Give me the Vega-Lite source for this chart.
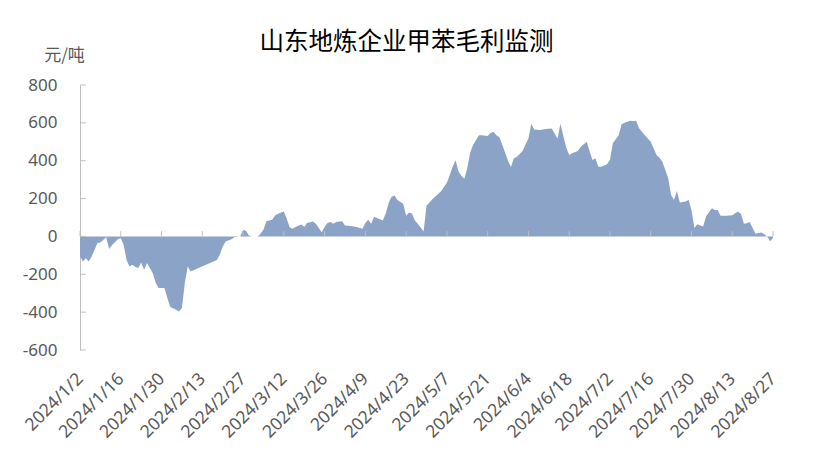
{
  "$schema": "https://vega.github.io/schema/vega-lite/v6.json",
  "width": 693,
  "height": 265,
  "autosize": {"type": "none"},
  "padding": {"left": 80, "top": 85, "right": 42, "bottom": 111},
  "background": "white",
  "config": {"view": {"stroke": null}},
  "title": {
    "text": "山东地炼企业甲苯毛利监测",
    "font": "Noto Sans CJK SC",
    "fontSize": 24.5,
    "fontWeight": "normal",
    "color": "#000000",
    "anchor": "middle",
    "dx": -20,
    "dy": 17,
    "offset": 8
  },
  "datasets": {
    "profit": [
      {"date": "2024/01/02", "v": -106}, {"date": "2024/01/03", "v": -133}, {"date": "2024/01/04", "v": -115},
      {"date": "2024/01/05", "v": -133}, {"date": "2024/01/06", "v": -106}, {"date": "2024/01/07", "v": -71},
      {"date": "2024/01/08", "v": -35}, {"date": "2024/01/09", "v": -32}, {"date": "2024/01/11", "v": -4},
      {"date": "2024/01/12", "v": -67}, {"date": "2024/01/13", "v": -45}, {"date": "2024/01/15", "v": -15},
      {"date": "2024/01/16", "v": -10}, {"date": "2024/01/17", "v": -45}, {"date": "2024/01/18", "v": -124},
      {"date": "2024/01/19", "v": -159}, {"date": "2024/01/20", "v": -150}, {"date": "2024/01/21", "v": -162},
      {"date": "2024/01/22", "v": -167}, {"date": "2024/01/23", "v": -138}, {"date": "2024/01/24", "v": -176},
      {"date": "2024/01/25", "v": -141}, {"date": "2024/01/27", "v": -194}, {"date": "2024/01/28", "v": -246},
      {"date": "2024/01/29", "v": -273}, {"date": "2024/01/31", "v": -273}, {"date": "2024/02/01", "v": -325},
      {"date": "2024/02/02", "v": -373}, {"date": "2024/02/04", "v": -387}, {"date": "2024/02/05", "v": -396},
      {"date": "2024/02/06", "v": -378}, {"date": "2024/02/07", "v": -246}, {"date": "2024/02/08", "v": -159},
      {"date": "2024/02/09", "v": -185}, {"date": "2024/02/18", "v": -124}, {"date": "2024/02/19", "v": -97},
      {"date": "2024/02/20", "v": -54}, {"date": "2024/02/21", "v": -27}, {"date": "2024/02/23", "v": -15},
      {"date": "2024/02/24", "v": -4}, {"date": "2024/02/25", "v": -2}, {"date": "2024/02/26", "v": 0},
      {"date": "2024/02/27", "v": 34}, {"date": "2024/02/28", "v": 30}, {"date": "2024/02/29", "v": 5},
      {"date": "2024/03/01", "v": 0}, {"date": "2024/03/03", "v": 0}, {"date": "2024/03/04", "v": 14},
      {"date": "2024/03/05", "v": 35}, {"date": "2024/03/06", "v": 80}, {"date": "2024/03/08", "v": 88},
      {"date": "2024/03/09", "v": 110}, {"date": "2024/03/10", "v": 120}, {"date": "2024/03/12", "v": 132},
      {"date": "2024/03/13", "v": 94}, {"date": "2024/03/14", "v": 49}, {"date": "2024/03/15", "v": 41},
      {"date": "2024/03/16", "v": 50}, {"date": "2024/03/18", "v": 63}, {"date": "2024/03/19", "v": 50},
      {"date": "2024/03/20", "v": 71}, {"date": "2024/03/22", "v": 79}, {"date": "2024/03/23", "v": 67},
      {"date": "2024/03/24", "v": 44}, {"date": "2024/03/25", "v": 22}, {"date": "2024/03/26", "v": 50},
      {"date": "2024/03/27", "v": 71}, {"date": "2024/03/28", "v": 76}, {"date": "2024/03/29", "v": 67},
      {"date": "2024/03/30", "v": 76}, {"date": "2024/04/01", "v": 80}, {"date": "2024/04/02", "v": 58},
      {"date": "2024/04/04", "v": 55}, {"date": "2024/04/06", "v": 50}, {"date": "2024/04/08", "v": 41},
      {"date": "2024/04/09", "v": 71}, {"date": "2024/04/10", "v": 88}, {"date": "2024/04/11", "v": 67},
      {"date": "2024/04/12", "v": 104}, {"date": "2024/04/13", "v": 97}, {"date": "2024/04/15", "v": 84},
      {"date": "2024/04/16", "v": 121}, {"date": "2024/04/17", "v": 177}, {"date": "2024/04/18", "v": 210},
      {"date": "2024/04/19", "v": 216}, {"date": "2024/04/20", "v": 193}, {"date": "2024/04/22", "v": 173},
      {"date": "2024/04/23", "v": 109}, {"date": "2024/04/24", "v": 127}, {"date": "2024/04/25", "v": 121},
      {"date": "2024/04/26", "v": 84}, {"date": "2024/04/27", "v": 67}, {"date": "2024/04/28", "v": 47},
      {"date": "2024/04/29", "v": 26}, {"date": "2024/04/30", "v": 162}, {"date": "2024/05/02", "v": 197},
      {"date": "2024/05/05", "v": 239}, {"date": "2024/05/07", "v": 283}, {"date": "2024/05/08", "v": 325},
      {"date": "2024/05/09", "v": 370}, {"date": "2024/05/10", "v": 402}, {"date": "2024/05/11", "v": 343},
      {"date": "2024/05/12", "v": 320}, {"date": "2024/05/13", "v": 305}, {"date": "2024/05/14", "v": 360},
      {"date": "2024/05/15", "v": 444}, {"date": "2024/05/16", "v": 483}, {"date": "2024/05/18", "v": 535},
      {"date": "2024/05/19", "v": 534}, {"date": "2024/05/21", "v": 530}, {"date": "2024/05/22", "v": 547},
      {"date": "2024/05/23", "v": 553}, {"date": "2024/05/24", "v": 534}, {"date": "2024/05/25", "v": 525},
      {"date": "2024/05/26", "v": 486}, {"date": "2024/05/27", "v": 442}, {"date": "2024/05/28", "v": 398},
      {"date": "2024/05/29", "v": 367}, {"date": "2024/05/30", "v": 413}, {"date": "2024/05/31", "v": 419},
      {"date": "2024/06/02", "v": 451}, {"date": "2024/06/03", "v": 486}, {"date": "2024/06/04", "v": 518},
      {"date": "2024/06/05", "v": 595}, {"date": "2024/06/06", "v": 565}, {"date": "2024/06/08", "v": 562},
      {"date": "2024/06/10", "v": 567}, {"date": "2024/06/12", "v": 570}, {"date": "2024/06/14", "v": 518},
      {"date": "2024/06/15", "v": 595}, {"date": "2024/06/16", "v": 530}, {"date": "2024/06/17", "v": 468},
      {"date": "2024/06/18", "v": 430}, {"date": "2024/06/19", "v": 440}, {"date": "2024/06/21", "v": 451},
      {"date": "2024/06/22", "v": 474}, {"date": "2024/06/24", "v": 500}, {"date": "2024/06/26", "v": 404},
      {"date": "2024/06/27", "v": 413}, {"date": "2024/06/28", "v": 368}, {"date": "2024/06/29", "v": 368},
      {"date": "2024/07/01", "v": 381}, {"date": "2024/07/02", "v": 404}, {"date": "2024/07/03", "v": 492},
      {"date": "2024/07/05", "v": 535}, {"date": "2024/07/06", "v": 593}, {"date": "2024/07/07", "v": 600},
      {"date": "2024/07/09", "v": 611}, {"date": "2024/07/10", "v": 609}, {"date": "2024/07/11", "v": 611},
      {"date": "2024/07/12", "v": 571}, {"date": "2024/07/14", "v": 535}, {"date": "2024/07/16", "v": 500},
      {"date": "2024/07/18", "v": 430}, {"date": "2024/07/19", "v": 416}, {"date": "2024/07/20", "v": 395},
      {"date": "2024/07/22", "v": 307}, {"date": "2024/07/23", "v": 219}, {"date": "2024/07/24", "v": 193},
      {"date": "2024/07/25", "v": 240}, {"date": "2024/07/26", "v": 179}, {"date": "2024/07/28", "v": 184},
      {"date": "2024/07/29", "v": 193}, {"date": "2024/07/30", "v": 140}, {"date": "2024/07/31", "v": 44},
      {"date": "2024/08/01", "v": 65}, {"date": "2024/08/03", "v": 53}, {"date": "2024/08/04", "v": 105},
      {"date": "2024/08/06", "v": 149}, {"date": "2024/08/07", "v": 140}, {"date": "2024/08/08", "v": 140},
      {"date": "2024/08/09", "v": 109}, {"date": "2024/08/11", "v": 109}, {"date": "2024/08/13", "v": 112},
      {"date": "2024/08/14", "v": 123}, {"date": "2024/08/15", "v": 132}, {"date": "2024/08/16", "v": 118},
      {"date": "2024/08/17", "v": 67}, {"date": "2024/08/18", "v": 70}, {"date": "2024/08/19", "v": 76},
      {"date": "2024/08/20", "v": 44}, {"date": "2024/08/21", "v": 14}, {"date": "2024/08/23", "v": 21},
      {"date": "2024/08/24", "v": 12}, {"date": "2024/08/25", "v": 0}, {"date": "2024/08/26", "v": -26},
      {"date": "2024/08/27", "v": -8}
    ],
    "ticks": [
      {"date": "2024/01/02"}, {"date": "2024/01/16"}, {"date": "2024/01/30"}, {"date": "2024/02/13"},
      {"date": "2024/02/27"}, {"date": "2024/03/12"}, {"date": "2024/03/26"}, {"date": "2024/04/09"},
      {"date": "2024/04/23"}, {"date": "2024/05/07"}, {"date": "2024/05/21"}, {"date": "2024/06/04"},
      {"date": "2024/06/18"}, {"date": "2024/07/02"}, {"date": "2024/07/16"}, {"date": "2024/07/30"},
      {"date": "2024/08/13"}, {"date": "2024/08/27"}
    ],
    "yticks": [{"v": -600}, {"v": -400}, {"v": -200}, {"v": 0}, {"v": 200}, {"v": 400}, {"v": 600}, {"v": 800}]
  },
  "layer": [
    {
      "data": {"name": "profit"},
      "mark": {"type": "area", "color": "#8ba3c6", "opacity": 1},
      "encoding": {
        "x": {
          "field": "date",
          "type": "temporal",
          "scale": {"domain": [{"year": 2024, "month": 1, "date": 2}, {"year": 2024, "month": 8, "date": 27}]},
          "axis": {
            "title": null,
            "values": [
              {"year": 2024, "month": 1, "date": 2}, {"year": 2024, "month": 1, "date": 16},
              {"year": 2024, "month": 1, "date": 30}, {"year": 2024, "month": 2, "date": 13},
              {"year": 2024, "month": 2, "date": 27}, {"year": 2024, "month": 3, "date": 12},
              {"year": 2024, "month": 3, "date": 26}, {"year": 2024, "month": 4, "date": 9},
              {"year": 2024, "month": 4, "date": 23}, {"year": 2024, "month": 5, "date": 7},
              {"year": 2024, "month": 5, "date": 21}, {"year": 2024, "month": 6, "date": 4},
              {"year": 2024, "month": 6, "date": 18}, {"year": 2024, "month": 7, "date": 2},
              {"year": 2024, "month": 7, "date": 16}, {"year": 2024, "month": 7, "date": 30},
              {"year": 2024, "month": 8, "date": 13}, {"year": 2024, "month": 8, "date": 27}
            ],
            "tickCount": 40,
            "format": "%Y/%-m/%-d",
            "labelAngle": -45,
            "labelAlign": "right",
            "labelBaseline": "middle",
            "labelPadding": 26,
            "labelFont": "Noto Sans",
            "labelFontSize": 17.5,
            "labelColor": "#595959",
            "labelOverlap": false,
            "labelFlush": false,
            "domain": false,
            "ticks": false,
            "grid": false
          }
        },
        "y": {
          "field": "v",
          "type": "quantitative",
          "scale": {"domain": [-600, 800], "nice": false, "zero": false},
          "axis": {
            "title": "元/吨",
            "titleAngle": 0,
            "titleFont": "Noto Sans CJK SC",
            "titleFontSize": 17,
            "titleFontWeight": "normal",
            "titleColor": "#595959",
            "titleAlign": "center",
            "titleBaseline": "middle",
            "titleX": -16,
            "titleY": -30,
            "values": [-600, -400, -200, 0, 200, 400, 600, 800],
            "tickCount": 20,
            "labelExpr": "'' + datum.value",
            "labelFont": "Noto Sans",
            "labelFontSize": 17,
            "labelColor": "#595959",
            "labelPadding": 23,
            "labelOverlap": false,
            "labelFlush": false,
            "domainColor": "#bfbfbf",
            "tickColor": "#bfbfbf",
            "tickSize": 0,
            "grid": false
          }
        }
      }
    },
    {
      "mark": {"type": "rule", "color": "#bfbfbf", "strokeWidth": 1, "strokeDash": [2, 1]},
      "encoding": {"y": {"datum": 0}}
    },
    {
      "data": {"name": "ticks"},
      "mark": {"type": "rule", "color": "#bfbfbf", "strokeWidth": 1},
      "encoding": {
        "x": {"field": "date", "type": "temporal"},
        "y": {"datum": 0},
        "y2": {"datum": 28}
      }
    },
    {
      "data": {"name": "yticks"},
      "mark": {"type": "rule", "color": "#bfbfbf", "strokeWidth": 1},
      "encoding": {
        "y": {"field": "v", "type": "quantitative"},
        "x": {"datum": {"year": 2024, "month": 1, "date": 2}, "type": "temporal"},
        "x2": {"datum": {"year": 2024, "month": 1, "date": 4}}
      }
    }
  ]
}
